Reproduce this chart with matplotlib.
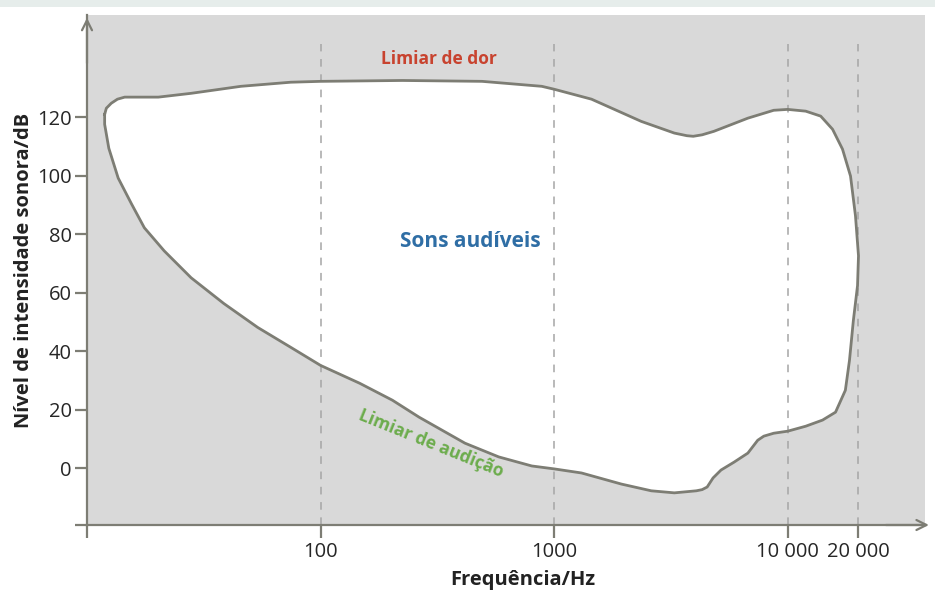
import matplotlib
matplotlib.use("Agg")
import matplotlib.pyplot as plt
from matplotlib.patches import Rectangle

# contorno da área audível (frequência em Hz, nível em dB), sentido horário
freq = [11.9, 12.1, 12.7, 13.5, 14.5, 17.1, 20.2, 27.9, 45.6, 74.5, 100, 224,
        491, 885, 1000, 1445, 2360, 3270, 3700, 3940, 4300, 4830, 6750, 8710,
        10000, 11940, 13840, 15560, 17160, 18570, 19500, 20090, 19900, 19100,
        18380, 17650, 16020, 14100, 11940, 10000, 8710, 7900, 7440, 6750, 5890,
        5180, 4790, 4520, 4300, 4060, 3270, 2605, 1941, 1310, 1000, 802, 579,
        415, 264, 203, 147, 100, 74.5, 53.8, 38.5, 27.9, 21.4, 17.6, 15.5,
        13.6, 12.4, 11.9, 11.9]
nivel = [121.0, 123.1, 124.8, 126.2, 126.9, 126.9, 126.9, 128.2, 130.6, 132.0,
         132.3, 132.6, 132.3, 130.6, 129.6, 126.2, 118.6, 114.6, 113.7, 113.5,
         114.0, 115.2, 119.7, 122.4, 122.7, 122.1, 120.4, 115.9, 109.1, 99.9,
         86.3, 72.6, 62.4, 50.5, 36.8, 26.6, 19.1, 16.4, 14.3, 12.6, 11.9, 10.9,
         9.5, 5.1, 2.0, -0.7, -3.4, -6.5, -7.4, -7.8, -8.5, -7.8, -5.5, -1.7,
         -0.3, 0.7, 3.8, 8.5, 17.4, 23.2, 29.0, 35.1, 41.3, 48.1, 56.3, 65.1,
         74.3, 82.2, 90.4, 99.2, 109.4, 117.6, 119.3]

xticks = [10, 100, 1000, 10000, 20000]
xlabels = ["", "100", "1000", "10 000", "20 000"]
yticks = [-19.5, 0, 20, 40, 60, 80, 100, 120]
ylabels = ["", "0", "20", "40", "60", "80", "100", "120"]
linhas = [100, 1000, 10000, 20000]

CINZA = "#d9d9d9"
EIXO = "#7d7d74"
FONTE = ["Open Sans", "DejaVu Sans"]

fig = plt.figure(figsize=(9.35, 6.10), dpi=100, facecolor="white")
fig.patches.append(Rectangle((0, 1 - 7 / 610), 1, 7 / 610, transform=fig.transFigure,
                             facecolor="#e6edeb", edgecolor="none"))
ax = fig.add_axes([87 / 935, 1 - 525 / 610, 838 / 935, 510 / 610])
ax.set_facecolor(CINZA)
ax.set_xscale("log")
ax.set_xlim(10.35, 38700)
ax.set_ylim(-19.5, 155)

ax.fill(freq, nivel, facecolor="white", edgecolor="none", zorder=1)
for f in linhas:
    ax.plot([f, f], [-19.5, 145], color="#a5a5a5", lw=1.1, dashes=(5, 5), zorder=2)
ax.plot(freq + [freq[0]], nivel + [nivel[0]], color=EIXO, lw=2.0,
        solid_joinstyle="round", zorder=3)

for s in ["top", "right"]:
    ax.spines[s].set_visible(False)
for s in ["left", "bottom"]:
    ax.spines[s].set_color(EIXO)
    ax.spines[s].set_linewidth(1.6)
ax.annotate("", xy=(1.008, 0), xytext=(0.95, 0), xycoords="axes fraction",
            arrowprops=dict(arrowstyle="->", color=EIXO, lw=1.6,
                            mutation_scale=18))
ax.annotate("", xy=(0, 1.0), xytext=(0, 0.9), xycoords="axes fraction",
            arrowprops=dict(arrowstyle="->", color=EIXO, lw=1.6,
                            mutation_scale=18))

ax.set_xticks(xticks)
ax.set_xticklabels(xlabels, family=FONTE, fontsize=14.5, color="#262626")
ax.xaxis.set_minor_locator(plt.NullLocator())
ax.set_yticks(yticks)
ax.set_yticklabels(ylabels, family=FONTE, fontsize=14.5, color="#262626")
ax.tick_params(axis="both", length=9, width=1.6, color=EIXO)
ax.tick_params(axis="y", pad=2)
ax.tick_params(axis="x", pad=3)

ax.set_xlabel("Frequência/Hz", family=FONTE, fontsize=14.5,
              fontweight="bold", color="#222222")
ax.xaxis.set_label_coords(0.52, -0.088)
ax.set_ylabel("Nível de intensidade sonora/dB", family=FONTE,
              fontsize=14.5, fontweight="bold", color="#222222")
ax.yaxis.set_label_coords(-0.063, 0.5)

ax.text(321, 140, "Limiar de dor", color="#c8432f", fontsize=12.5,
        fontweight="bold", family=FONTE, ha="center", va="center", zorder=4)
ax.text(436, 77.6, "Sons audíveis", color="#2f6ea5", fontsize=15,
        fontweight="bold", family=FONTE, ha="center", va="center", zorder=4)
ax.text(298, 8.5, "Limiar de audição", color="#6cac4c", fontsize=12.5,
        fontweight="bold", family=FONTE, ha="center", va="center",
        rotation=-22, rotation_mode="anchor", zorder=4)

fig.savefig("out.png", dpi=100, facecolor=fig.get_facecolor())
